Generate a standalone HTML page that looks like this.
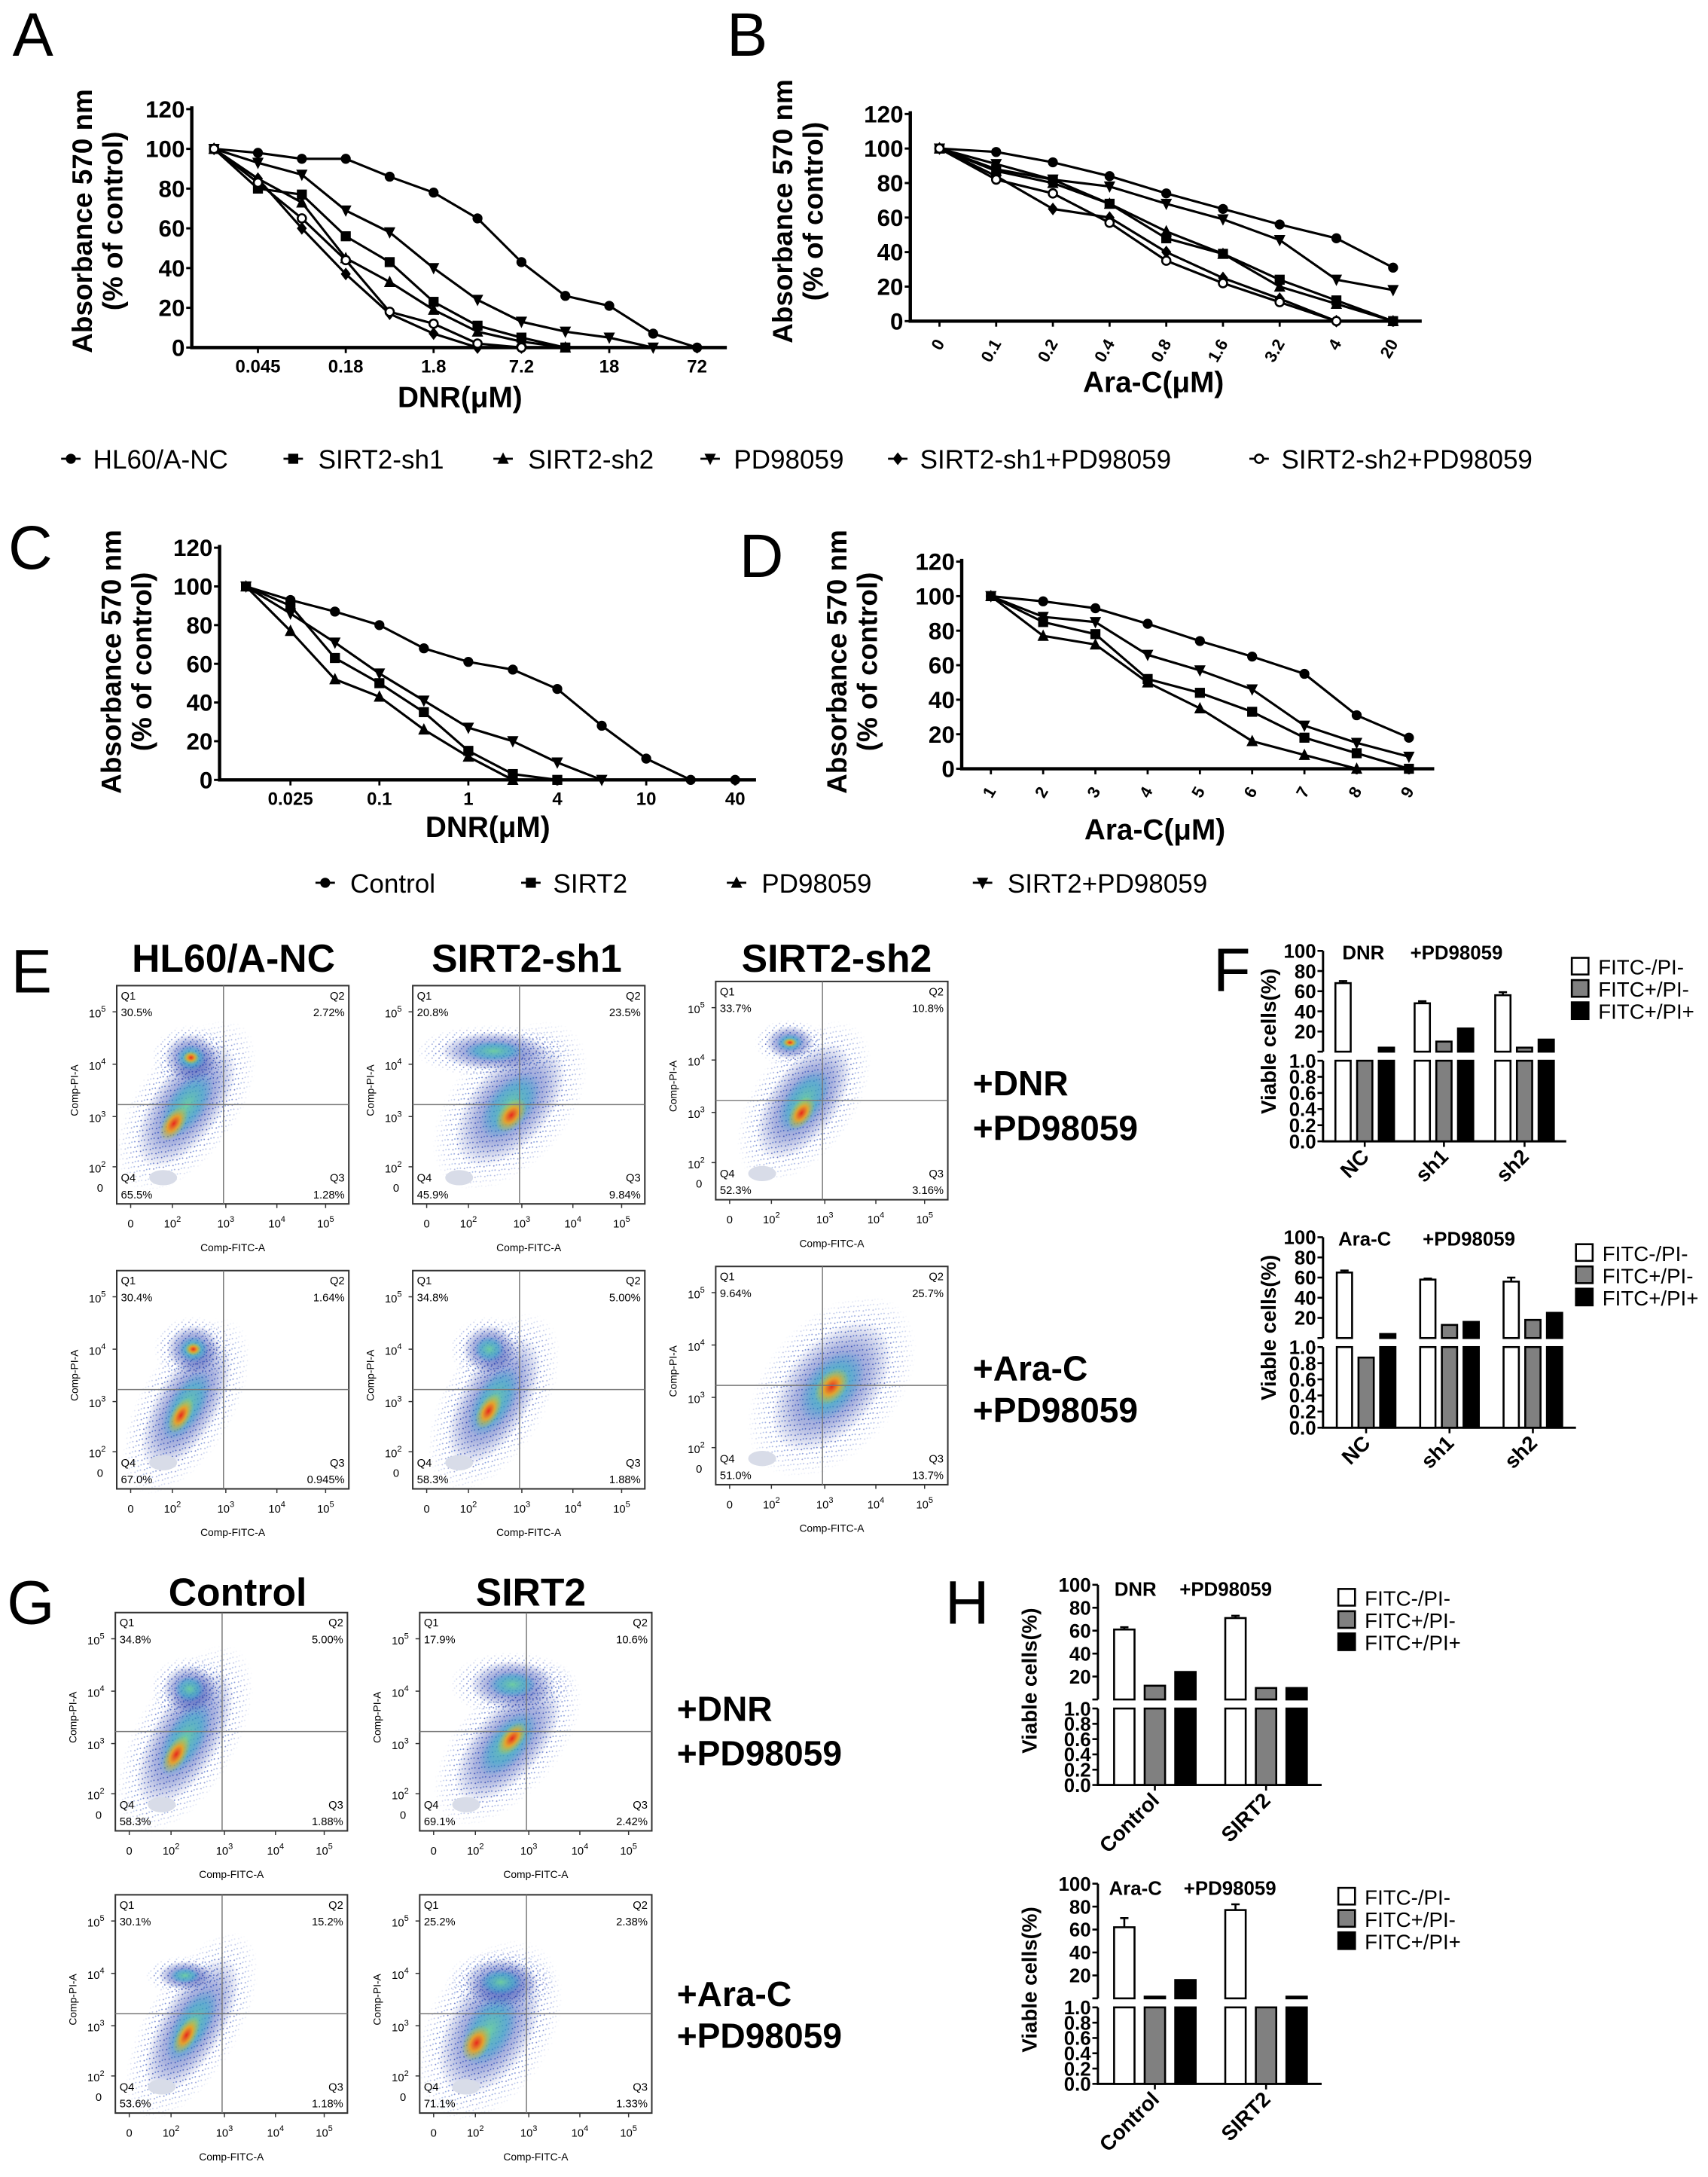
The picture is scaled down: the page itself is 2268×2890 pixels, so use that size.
<!DOCTYPE html>
<html><head><meta charset="utf-8">
<style>
html,body{margin:0;padding:0;background:#fff;}
svg{display:block;}
text{font-family:"Liberation Sans",Arial,sans-serif;}
.nar{font-family:"Liberation Sans Narrow","Liberation Sans",sans-serif;}
</style></head>
<body>
<svg id="fig" width="2268" height="2890" viewBox="0 0 1229 1566" preserveAspectRatio="none" xmlns="http://www.w3.org/2000/svg">
<defs>
<radialGradient id="gHalo"><stop offset="0" stop-color="#3a5fc8" stop-opacity="0.85"/><stop offset="0.6" stop-color="#3046b0" stop-opacity="0.55"/><stop offset="1" stop-color="#2a3aa0" stop-opacity="0"/></radialGradient>
<radialGradient id="gMid"><stop offset="0" stop-color="#6fd0a0" stop-opacity="0.95"/><stop offset="0.6" stop-color="#3fb0c8" stop-opacity="0.6"/><stop offset="1" stop-color="#3090c8" stop-opacity="0"/></radialGradient>
<radialGradient id="gCore"><stop offset="0" stop-color="#e8281c"/><stop offset="0.45" stop-color="#f0a020" stop-opacity="0.9"/><stop offset="1" stop-color="#b0d040" stop-opacity="0"/></radialGradient>
<pattern id="dots" width="5" height="5" patternUnits="userSpaceOnUse">
<rect x="0.5" y="0.7" width="0.9" height="0.9" fill="#2838a8"/><rect x="3.1" y="2.4" width="0.9" height="0.9" fill="#3050c0"/><rect x="1.6" y="3.9" width="0.9" height="0.9" fill="#4070d0"/>
</pattern>
<radialGradient id="fadeG"><stop offset="0" stop-color="#fff"/><stop offset="0.7" stop-color="#fff" stop-opacity="0.7"/><stop offset="1" stop-color="#fff" stop-opacity="0"/></radialGradient>
<mask id="fadeM" maskContentUnits="objectBoundingBox"><rect width="1" height="1" fill="url(#fadeG)"/></mask>
</defs>
<g id="root"></g>
</svg>
<script>
// ---------- Panel A data (DNR, 12 dose points) ----------
const A_ticks = ["0.045","0.18","1.8","7.2","18","72"];
const A_tickIdx = [1,3,5,7,9,11];
const A_NC   = [100,98,95,95,86,78,65,43,26,21,7,0];
const A_sh1  = [100,80,77,56,43,23,11,5,0];
const A_sh2  = [100,85,73,45,33,19,8,3,0];
const A_PD   = [100,93,87,69,58,40,24,13,8,5,0];
const A_sh1PD= [100,85,60,37,17,7,0,0];
const A_sh2PD= [100,83,65,44,18,12,2,0];
// ---------- Panel B data (Ara-C) ----------
const B_ticks = ["0","0.1","0.2","0.4","0.8","1.6","3.2","4","20"];
const B_NC   = [100,98,92,84,74,65,56,48,31];
const B_sh1  = [100,88,82,68,48,39,24,12,0];
const B_sh2  = [100,87,80,68,52,39,20,10,0];
const B_PD   = [100,91,82,78,68,59,47,24,18];
const B_sh1PD= [100,84,65,60,40,25,13,0];
const B_sh2PD= [100,82,74,57,35,22,11,0];
// ---------- Panel C data ----------
const C_ticks = ["0.025","0.1","1","4","10","40"];
const C_tickIdx = [1,3,5,7,9,11];
const C_Ctrl = [100,93,87,80,68,61,57,47,28,11,0,0];
const C_S2   = [100,90,63,50,35,15,3,0];
const C_PD   = [100,77,52,43,26,12,0];
const C_S2PD = [100,86,71,55,41,27,20,9,0];
// ---------- Panel D data ----------
const D_ticks = ["1","2","3","4","5","6","7","8","9"];
const D_Ctrl = [100,97,93,84,74,65,55,31,18];
const D_S2   = [100,85,78,52,44,33,18,9,0];
const D_PD   = [100,77,72,50,35,16,8,0];
const D_S2PD = [100,88,85,66,57,46,25,15,7];
// ---------- Panel F data ----------
const F_cats = ["NC","sh1","sh2"];
const F1_neg = [68,48,56], F1_early = [1,10,4], F1_late = [4,23,12];
const F1_err = [2,2,3];
const F2_neg = [65,58,56], F2_early = [0.87,13,18], F2_late = [4,16,25];
const F2_err = [2,1,4];
// ---------- Panel H data ----------
const H_cats = ["Control","SIRT2"];
const H1_neg = [61,71], H1_early = [12,10], H1_late = [24,10];
const H1_err = [2,2];
const H2_neg = [62,77], H2_early = [1.5,1], H2_late = [16,1.5];
const H2_err = [8,5];
// ---------- Flow quadrant percentages (Q1,Q2,Q3,Q4) ----------
const E_quads = [
 ["30.5%","2.72%","1.28%","65.5%"],["20.8%","23.5%","9.84%","45.9%"],["33.7%","10.8%","3.16%","52.3%"],
 ["30.4%","1.64%","0.945%","67.0%"],["34.8%","5.00%","1.88%","58.3%"],["9.64%","25.7%","13.7%","51.0%"]];
const G_quads = [["34.8%","5.00%","1.88%","58.3%"],["17.9%","10.6%","2.42%","69.1%"],
 ["30.1%","15.2%","1.18%","53.6%"],["25.2%","2.38%","1.33%","71.1%"]];

const NS="http://www.w3.org/2000/svg";
const root=document.getElementById('root');
function el(tag,attrs,parent,txt){const e=document.createElementNS(NS,tag);for(const k in attrs)e.setAttribute(k,attrs[k]);if(txt!==undefined)e.textContent=txt;(parent||root).appendChild(e);return e;}
function grp(name,parent){const g=el('g',{},parent);


return g;}

function marker(g,type,x,y){
  const s=3.6;let m;
  if(type==='circle')m=el('circle',{cx:x,cy:y,r:s,fill:'#000'},g);
  else if(type==='ocircle')m=el('circle',{cx:x,cy:y,r:s-0.6,fill:'#fff',stroke:'#000','stroke-width':1.4},g);
  else if(type==='square')m=el('rect',{x:x-s,y:y-s,width:2*s,height:2*s,fill:'#000'},g);
  else if(type==='tri')m=el('polygon',{points:`${x},${y-s-1} ${x-s-0.5},${y+s} ${x+s+0.5},${y+s}`,fill:'#000'},g);
  else if(type==='itri')m=el('polygon',{points:`${x},${y+s+1} ${x-s-0.5},${y-s} ${x+s+0.5},${y-s}`,fill:'#000'},g);
  else m=el('polygon',{points:`${x},${y-s-1} ${x+s},${y} ${x},${y+s+1} ${x-s},${y}`,fill:'#000'},g);
  
  
}

function lineChart(name,o){
  const g=grp(name);
  const yS=v=>o.y0+(o.y120-o.y0)*v/120;
  const xS=i=>o.px0+o.dx*i;
  const ax=el('path',{d:`M${o.ax},${o.y120-2} V${o.y0} H${o.xEnd}`,stroke:'#000','stroke-width':2.4,fill:'none'},g);
  
  
  for(let v=0;v<=120;v+=20){
    el('line',{x1:o.ax-4,x2:o.ax,y1:yS(v),y2:yS(v),stroke:'#000','stroke-width':1.6},g);
    const t=el('text',{x:o.ax-5,y:yS(v)+6,'text-anchor':'end','font-size':17,'font-weight':'bold',class:'nar'},g,String(v));
    
    
  }
  o.tickIdx.forEach((idx,k)=>{
    const x=xS(idx);
    el('line',{x1:x,x2:x,y1:o.y0,y2:o.y0+4,stroke:'#000','stroke-width':1.5},g);
    let t;
    if(o.rot) t=el('text',{x:0,y:0,'text-anchor':'end','font-size':12,'font-weight':'bold',class:'nar',transform:`translate(${x+4},${o.ly}) rotate(-60)`},g,o.ticks[k]);
    else t=el('text',{x:x,y:o.ly,'text-anchor':'middle','font-size':13,'font-weight':'bold',class:'nar'},g,o.ticks[k]);
    
    
  });
  o.series.forEach(s=>{
    const pts=s.vals.map((v,i)=>`${xS(i)},${yS(v)}`).join(' ');
    const pl=el('polyline',{points:pts,fill:'none',stroke:'#000','stroke-width':1.7},g);
    
    
    s.vals.forEach((v,i)=>marker(g,s.m,xS(i),yS(v)));
  });
  const xt=el('text',{x:o.xtx,y:o.xty,'text-anchor':'middle','font-size':21,'font-weight':'bold'},g,o.xtitle);
  
  
  const yt=el('text',{x:0,y:0,'text-anchor':'middle','font-size':20,'font-weight':'bold',transform:`translate(${o.ytx},${o.yty}) rotate(-90)`},g);
  
  
  el('tspan',{x:0,dy:0},yt,'Absorbance 570 nm');
  el('tspan',{x:0,dy:22},yt,'(% of control)');
}
const idx9=[0,1,2,3,4,5,6,7,8];

lineChart('chart-a',{ax:138,xEnd:523,y120:78.5,y0:250,px0:154,dx:31.6,tickIdx:A_tickIdx,ticks:A_ticks,ly:268,
  xtitle:'DNR(μM)',xtx:331,xty:293,ytx:66,yty:159,
  series:[{vals:A_NC,m:'circle'},{vals:A_sh1,m:'square'},{vals:A_sh2,m:'tri'},{vals:A_PD,m:'itri'},{vals:A_sh1PD,m:'diamond'},{vals:A_sh2PD,m:'ocircle'}]});
lineChart('chart-b',{ax:655,xEnd:1023,y120:82,y0:231,px0:676,dx:40.8,tickIdx:idx9,ticks:B_ticks,ly:247,rot:true,
  xtitle:'Ara-C(μM)',xtx:830,xty:282,ytx:570,yty:152,
  series:[{vals:B_NC,m:'circle'},{vals:B_sh1,m:'square'},{vals:B_sh2,m:'tri'},{vals:B_PD,m:'itri'},{vals:B_sh1PD,m:'diamond'},{vals:B_sh2PD,m:'ocircle'}]});
lineChart('chart-c',{ax:158,xEnd:544,y120:394,y0:561,px0:177,dx:32,tickIdx:C_tickIdx,ticks:C_ticks,ly:579,
  xtitle:'DNR(μM)',xtx:351,xty:602,ytx:87,yty:476,
  series:[{vals:C_Ctrl,m:'circle'},{vals:C_S2,m:'square'},{vals:C_PD,m:'tri'},{vals:C_S2PD,m:'itri'}]});
lineChart('chart-d',{ax:692,xEnd:1032,y120:404,y0:553,px0:713,dx:37.6,tickIdx:idx9,ticks:D_ticks,ly:569,rot:true,
  xtitle:'Ara-C(μM)',xtx:831,xty:604,ytx:609,yty:476,
  series:[{vals:D_Ctrl,m:'circle'},{vals:D_S2,m:'square'},{vals:D_PD,m:'tri'},{vals:D_S2PD,m:'itri'}]});

// legends
function legendLine(items,y){
  const g=grp('line-legend');
  items.forEach(it=>{
    const lg=grp('legend-entry',g);
    el('line',{x1:it[0]-7,x2:it[0]+7,y1:y,y2:y,stroke:'#000','stroke-width':1.5},lg);
    marker(lg,it[2],it[0],y);
    el('text',{x:it[1],y:y+7,'font-size':19},lg,it[3]);
  });
}
legendLine([[51,67,'circle','HL60/A-NC'],[211,229,'square','SIRT2-sh1'],[362,380,'tri','SIRT2-sh2'],[511,528,'itri','PD98059'],[646,662,'diamond','SIRT2-sh1+PD98059'],[906,922,'ocircle','SIRT2-sh2+PD98059']],330);
legendLine([[234,252,'circle','Control'],[382,398,'square','SIRT2'],[530,548,'tri','PD98059'],[707,725,'itri','SIRT2+PD98059']],635);

// panel letters
function letter(t,x,y,s){const e=el('text',{x:x,y:y,'font-size':s||44},root,t);

}
letter('A',9,40);letter('B',523,40);letter('C',6,409);letter('D',532,415);
letter('E',8,714);letter('F',873,713);letter('G',5,1168);letter('H',680,1168);

// flow plots
function flow(x,y,w,h,q,blobs,name){
  const g=grp(name);
  blobs.forEach(b=>{
    const cx=x+b[0]*w,cy=y+b[1]*h,rx=b[2]*w,ry=b[3]*h,ang=b[4];
    el('ellipse',{cx:cx,cy:cy,rx:rx*1.7,ry:ry*1.5,fill:'url(#dots)',mask:'url(#fadeM)',transform:`rotate(${ang} ${cx} ${cy})`},g);
    el('ellipse',{cx:cx,cy:cy,rx:rx*1.15,ry:ry*1.1,fill:'url(#gHalo)',opacity:0.75,transform:`rotate(${ang} ${cx} ${cy})`},g);
    el('ellipse',{cx:cx,cy:cy,rx:rx*0.65,ry:ry*0.6,fill:'url(#gMid)',transform:`rotate(${ang} ${cx} ${cy})`},g);
    if(b[5])el('ellipse',{cx:cx+b[6]*w,cy:cy+b[7]*h,rx:rx*0.35,ry:ry*0.3,fill:'url(#gCore)',transform:`rotate(${ang} ${cx} ${cy})`},g);
  });
  el('ellipse',{cx:x+0.2*w,cy:y+0.88*h,rx:0.06*w,ry:0.035*h,fill:'#d8dce8'},g);
  el('rect',{x:x,y:y,width:w,height:h,fill:'none',stroke:'#333','stroke-width':1.1},g);
  el('line',{x1:x+0.46*w,x2:x+0.46*w,y1:y,y2:y+h,stroke:'#777','stroke-width':0.8},g);
  el('line',{x1:x,x2:x+w,y1:y+0.545*h,y2:y+0.545*h,stroke:'#777','stroke-width':0.8},g);
  const fs=8;
  el('text',{x:x+3,y:y+10,'font-size':fs},g,'Q1');el('text',{x:x+3,y:y+22,'font-size':fs},g,q[0]);
  el('text',{x:x+w-3,y:y+10,'font-size':fs,'text-anchor':'end'},g,'Q2');el('text',{x:x+w-3,y:y+22,'font-size':fs,'text-anchor':'end'},g,q[1]);
  el('text',{x:x+w-3,y:y+h-16,'font-size':fs,'text-anchor':'end'},g,'Q3');el('text',{x:x+w-3,y:y+h-4,'font-size':fs,'text-anchor':'end'},g,q[2]);
  el('text',{x:x+3,y:y+h-16,'font-size':fs},g,'Q4');el('text',{x:x+3,y:y+h-4,'font-size':fs},g,q[3]);
  [[0.12,'10','5'],[0.36,'10','4'],[0.6,'10','3'],[0.83,'10','2']].forEach(t=>{
    const ty=y+t[0]*h;el('line',{x1:x-3,x2:x,y1:ty,y2:ty,stroke:'#333','stroke-width':0.8},g);
    const tt=el('text',{x:x-14,y:ty+4,'font-size':8,'text-anchor':'middle'},g,t[1]);el('tspan',{dy:-4,'font-size':6},tt,t[2]);
  });
  el('text',{x:x-12,y:y+0.925*h+3,'font-size':8,'text-anchor':'middle'},g,'0');
  [[0.06,'0',''],[0.24,'10','2'],[0.47,'10','3'],[0.69,'10','4'],[0.9,'10','5']].forEach(t=>{
    const tx=x+t[0]*w;el('line',{x1:tx,x2:tx,y1:y+h,y2:y+h+3,stroke:'#333','stroke-width':0.8},g);
    const tt=el('text',{x:tx,y:y+h+17,'font-size':8,'text-anchor':'middle'},g,t[1]);if(t[2])el('tspan',{dy:-4,'font-size':6},tt,t[2]);
  });
  el('text',{x:x+w*0.5,y:y+h+34,'font-size':7.5,'text-anchor':'middle'},g,'Comp-FITC-A');
  el('text',{x:0,y:0,'font-size':7.5,'text-anchor':'middle',transform:`translate(${x-28},${y+h*0.48}) rotate(-90)`},g,'Comp-PI-A');
}
const bE=[
 [[0.3,0.55,0.13,0.3,35,1,0.0,0.1],[0.32,0.33,0.1,0.1,0,1,0,0]],
 [[0.42,0.55,0.15,0.3,40,1,0.03,0.03],[0.35,0.3,0.2,0.08,0,0]],
 [[0.38,0.55,0.13,0.28,35,1,0.02,0.05],[0.32,0.28,0.09,0.07,0,1,0,0]],
 [[0.3,0.62,0.12,0.3,30,1,0,0.05],[0.33,0.36,0.1,0.1,0,1,0,0]],
 [[0.35,0.6,0.13,0.3,30,1,0,0.05],[0.33,0.36,0.1,0.1,0,0]],
 [[0.5,0.55,0.17,0.32,40,1,0,0.0]]];
const EX=[84,297,515],EY=[709,914];
for(let r=0;r<2;r++)for(let c=0;c<3;c++)flow(EX[c],EY[r]-(c==2?3:0),167,157,E_quads[r*3+c],bE[r*3+c],'flow-plot-e');
const bG=[[[0.3,0.58,0.13,0.32,30,1,0,0.08],[0.32,0.35,0.1,0.1,0,0]],[[0.38,0.6,0.13,0.3,40,1,0,-0.03],[0.4,0.33,0.16,0.1,0,0]],
 [[0.33,0.6,0.12,0.32,30,1,0,0.05],[0.3,0.37,0.1,0.06,0,0]],[[0.3,0.62,0.16,0.3,30,1,-0.02,0.08],[0.35,0.4,0.14,0.1,0,0]]];
const GX=[83,302],GY=[1160,1363];
for(let r=0;r<2;r++)for(let c=0;c<2;c++)flow(GX[c],GY[r],167,157,G_quads[r*2+c],bG[r*2+c],'flow-plot-g');
function bold(t,x,y,s,anchor,name){const e=el('text',{x:x,y:y,'font-size':s,'font-weight':'bold','text-anchor':anchor||'start'},root,t);

}
bold('HL60/A-NC',168,699,28,'middle','column-title');bold('SIRT2-sh1',379,699,28,'middle','column-title');bold('SIRT2-sh2',602,699,28,'middle','column-title');
bold('Control',171,1155,28,'middle','column-title');bold('SIRT2',382,1155,28,'middle','column-title');
bold('+DNR',700,788,25,'start','row-label');bold('+PD98059',700,820,25,'start','row-label');
bold('+Ara-C',700,993,25,'start','row-label');bold('+PD98059',700,1023,25,'start','row-label');
bold('+DNR',487,1238,25,'start','row-label');bold('+PD98059',487,1270,25,'start','row-label');
bold('+Ara-C',487,1443,25,'start','row-label');bold('+PD98059',487,1473,25,'start','row-label');

// broken-axis bar charts
function barChart(name,o){
  const g=grp(name);
  const yU=v=>o.y0u+(o.y100-o.y0u)*v/100;
  const yL=v=>o.y0+(o.y1-o.y0)*v;
  el('path',{d:`M${o.ax},${o.y100} V${o.y0u} M${o.ax},${o.y1} V${o.y0} H${o.xEnd}`,stroke:'#000','stroke-width':1.6,fill:'none'},g);
  el('line',{x1:o.ax-4,x2:o.ax,y1:o.y0u,y2:o.y0u,stroke:'#000','stroke-width':1.4},g);
  [100,80,60,40,20].forEach(v=>{el('line',{x1:o.ax-4,x2:o.ax,y1:yU(v),y2:yU(v),stroke:'#000','stroke-width':1.4},g);
    el('text',{x:o.ax-5,y:yU(v)+5,'text-anchor':'end','font-size':14,'font-weight':'bold'},g,String(v));});
  [1,0.8,0.6,0.4,0.2,0].forEach(v=>{el('line',{x1:o.ax-4,x2:o.ax,y1:yL(v),y2:yL(v),stroke:'#000','stroke-width':1.4},g);
    el('text',{x:o.ax-5,y:yL(v)+5,'text-anchor':'end','font-size':14,'font-weight':'bold'},g,v.toFixed(1));});
  const series=[[o.neg,'#fff'],[o.early,'#808080'],[o.late,'#000']];
  o.cats.forEach((c,i)=>{
    const cx=o.centers[i];
    el('line',{x1:cx,x2:cx,y1:o.y0,y2:o.y0+4,stroke:'#000','stroke-width':1.4},g);
    const ct=el('text',{x:0,y:0,'text-anchor':'end','font-size':15,'font-weight':'bold',transform:`translate(${cx+4},${o.y0+12}) rotate(-45)`},g,c);
    
    
    series.forEach((s,k)=>{
      const v=s[0][i],bx=cx+(k-1)*o.off-o.bw/2;
      const st={fill:s[1],stroke:'#000','stroke-width':1.4};
      const lowTop=yL(Math.min(v,1));
      const b1=el('rect',Object.assign({x:bx,y:lowTop,width:o.bw,height:o.y0-lowTop},st),g);
      
      
      if(v>1){const t=yU(v);const b2=el('rect',Object.assign({x:bx,y:t,width:o.bw,height:o.y0u-t},st),g);
        
        
        if(k===0){const e=yU(v+o.err[i]);el('path',{d:`M${bx+o.bw/2},${t} V${e} M${bx+o.bw/2-3},${e} H${bx+o.bw/2+3}`,stroke:'#000','stroke-width':1.4},g);}}
    });
  });
  el('rect',{x:o.ax-6,y:o.y0u+1,width:o.xEnd-o.ax+8,height:o.y1-o.y0u-2,fill:'#fff'},g);
  el('text',{x:o.t1x,y:o.ty,'text-anchor':'middle','font-size':14,'font-weight':'bold'},g,o.t1);
  el('text',{x:o.t2x,y:o.ty,'text-anchor':'middle','font-size':14,'font-weight':'bold'},g,'+PD98059');
  el('text',{x:0,y:0,'text-anchor':'middle','font-size':15,'font-weight':'bold',transform:`translate(${o.ytx},${o.yty}) rotate(-90)`},g,'Viable cells(%)');
  const lab=['FITC-/PI-','FITC+/PI-','FITC+/PI+'],fills=['#fff','#808080','#000'];
  lab.forEach((l,k)=>{const ly=o.legY+k*16;
    const lg=grp('legend-entry',g);
    el('rect',{x:o.legX,y:ly-6,width:12,height:12,fill:fills[k],stroke:'#000','stroke-width':1.4},lg);
    el('text',{x:o.legX+19,y:ly+6,'font-size':15},lg,l);});
}
barChart('chart-f-dnr',{ax:952,xEnd:1127,y100:684,y0u:756.5,y1:763,y0:821,centers:[982,1039,1097],off:15.6,bw:11,cats:F_cats,
  neg:F1_neg,early:F1_early,late:F1_late,err:F1_err,t1:'DNR',t1x:981,t2x:1048,ty:690,ytx:918,yty:749,legX:1131,legY:695});
barChart('chart-f-arac',{ax:952,xEnd:1134,y100:890,y0u:962.5,y1:969,y0:1027,centers:[983,1043,1103],off:15.6,bw:11,cats:F_cats,
  neg:F2_neg,early:F2_early,late:F2_late,err:F2_err,t1:'Ara-C',t1x:982,t2x:1057,ty:896,ytx:918,yty:955,legX:1134,legY:901});
barChart('chart-h-dnr',{ax:790,xEnd:951,y100:1140,y0u:1222.5,y1:1229,y0:1284,centers:[831,911],off:22,bw:14.7,cats:H_cats,
  neg:H1_neg,early:H1_early,late:H1_late,err:H1_err,t1:'DNR',t1x:817,t2x:882,ty:1148,ytx:746,yty:1209,legX:963,legY:1149});
barChart('chart-h-arac',{ax:790,xEnd:951,y100:1355,y0u:1437.5,y1:1444,y0:1499,centers:[831,911],off:22,bw:14.7,cats:H_cats,
  neg:H2_neg,early:H2_early,late:H2_late,err:H2_err,t1:'Ara-C',t1x:817,t2x:885,ty:1363,ytx:746,yty:1424,legX:963,legY:1364});
</script>
</body></html>
